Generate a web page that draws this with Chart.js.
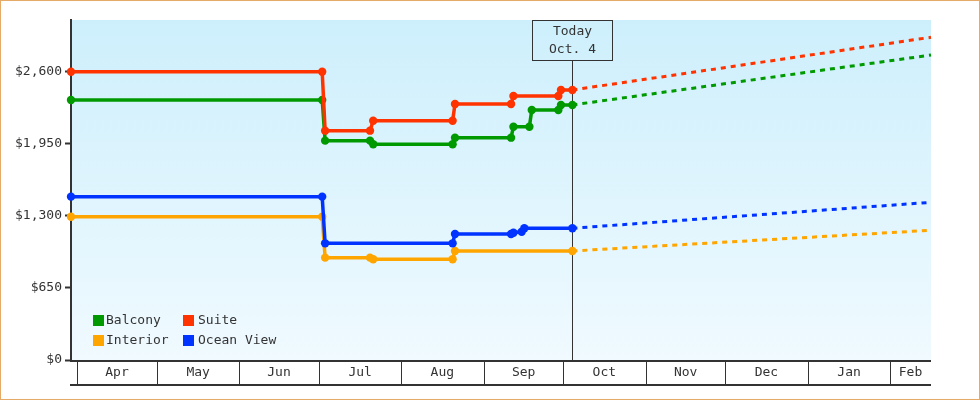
<!DOCTYPE html>
<html>
<head>
<meta charset="utf-8">
<script src="https://cdn.jsdelivr.net/npm/chart.js@4.4.1/dist/chart.umd.min.js"></script>
<style>
  html, body { margin: 0; padding: 0; background: #fff; }
  canvas { display: block; }
</style>
</head>
<body>
<canvas id="chart" width="980" height="400"></canvas>
<script>
// ─── Eixo de tempo: dias contados a partir de 1 de abril ───
const MONTHS       = ['Apr', 'May', 'Jun', 'Jul', 'Aug', 'Sep', 'Oct', 'Nov', 'Dec', 'Jan', 'Feb'];
const MONTH_STARTS = [0, 30, 61, 91, 122, 153, 183, 214, 244, 275, 306];
const X_MIN = -2.37;
const X_MAX = 321.4;
const TODAY_DAY   = 186.4;
const TODAY_TEXT  = ['Today', 'Oct. 4'];
const Y_TICKS = [0, 650, 1300, 1950, 2600];
const Y_MAX = 3066;

// ─── Preços observados ───
const balconyDays   = [-2.37, 92.2, 93.3, 110.2, 111.4, 141.3, 142.2, 163.3, 164.2, 170.2, 171.1, 181.1, 182.1, 186.4];
const balconyPrices = [2345, 2345, 1978, 1978, 1945, 1945, 2005, 2005, 2104, 2104, 2254, 2254, 2300, 2300];

const suiteDays   = [-2.37, 92.2, 93.3, 110.2, 111.4, 141.3, 142.2, 163.3, 164.2, 181.1, 182.1, 186.4];
const suitePrices = [2600, 2600, 2068, 2068, 2158, 2158, 2309, 2309, 2381, 2381, 2435, 2435];

const interiorDays   = [-2.37, 92.2, 93.3, 110.2, 111.4, 141.3, 142.2, 186.4];
const interiorPrices = [1292, 1292, 923, 923, 908, 908, 983, 983];

const oceanDays   = [-2.37, 92.2, 93.3, 141.3, 142.2, 163.3, 164.2, 167.3, 168.3, 186.4];
const oceanPrices = [1473, 1473, 1052, 1052, 1136, 1136, 1148, 1157, 1188, 1188];

// ─── Projeção (tracejada) ───
const forecastDays     = [186.4, 321.4];
const balconyForecast  = [2300, 2750];
const suiteForecast    = [2435, 2910];
const interiorForecast = [983, 1170];
const oceanForecast    = [1188, 1422];

// ─── Cores ───
const CORES = {
  balcony:  '#009900',
  suite:    '#ff3300',
  interior: '#ffa500',
  ocean:    '#0033ff',
};
const TXT = '#333333';
const FONTE = '13px "DejaVu Sans Mono", monospace';

const pts = (xs, ys) => xs.map((x, i) => ({ x, y: ys[i] }));

function serie(label, xs, ys, cor, ordem) {
  return {
    label, data: pts(xs, ys),
    borderColor: cor, backgroundColor: cor,
    borderWidth: 3.5, pointRadius: 4.2, pointHoverRadius: 4.2,
    pointBackgroundColor: cor, pointBorderWidth: 0,
    tension: 0, clip: false, order: ordem,
  };
}
function projecao(xs, ys, cor) {
  return {
    label: '', isForecast: true, data: pts(xs, ys),
    borderColor: cor, borderWidth: 3, borderDash: [5, 5],
    pointRadius: 0, tension: 0, clip: false, order: 10,
  };
}

// ─── Plugin: fundo, eixo x em caixas, marcador "Today", legenda ───
const decor = {
  id: 'decor',
  beforeDraw(chart) {
    const { ctx, chartArea: a } = chart;
    ctx.save();
    ctx.fillStyle = '#fff';
    ctx.fillRect(0, 0, chart.width, chart.height);
    const g = ctx.createLinearGradient(0, a.top, 0, a.bottom);
    g.addColorStop(0, '#cdeffc');
    g.addColorStop(1, '#f0faff');
    ctx.fillStyle = g;
    ctx.fillRect(a.left, a.top, a.right - a.left, a.bottom - a.top);
    ctx.restore();
  },
  beforeDatasetsDraw(chart) {
    const { ctx, chartArea: a, scales: { x } } = chart;
    ctx.save();
    ctx.font = FONTE;
    ctx.fillStyle = TXT;
    ctx.strokeStyle = TXT;
    // linha "Today" + caixa
    const tx = Math.round(x.getPixelForValue(TODAY_DAY)) + 0.5;
    ctx.lineWidth = 1;
    ctx.beginPath();
    ctx.moveTo(tx, a.top + 40);
    ctx.lineTo(tx, a.bottom);
    ctx.stroke();
    ctx.strokeRect(tx - 40, a.top + 0.5, 80, 40);
    ctx.textAlign = 'center';
    ctx.textBaseline = 'middle';
    ctx.fillText(TODAY_TEXT[0], tx, a.top + 12);
    ctx.fillText(TODAY_TEXT[1], tx, a.top + 30);
    ctx.restore();
  },
  afterDatasetsDraw(chart) {
    const { ctx, chartArea: a, scales: { x } } = chart;
    ctx.save();
    ctx.font = FONTE;
    ctx.fillStyle = TXT;
    ctx.textAlign = 'center';
    ctx.textBaseline = 'middle';

    // eixo x: linha, caixas dos meses e rótulos
    ctx.fillRect(a.left - 1, a.bottom, a.right - a.left + 1, 2);
    ctx.fillRect(a.left - 1, a.bottom + 24, a.right - a.left + 1, 2);
    MONTH_STARTS.forEach((d, i) => {
      const px = Math.round(x.getPixelForValue(d));
      ctx.fillRect(px, a.bottom + 2, 1, 22);
      const fim = i + 1 < MONTH_STARTS.length ? x.getPixelForValue(MONTH_STARTS[i + 1]) : a.right;
      ctx.fillText(MONTHS[i], (px + fim) / 2, a.bottom + 13);
    });

    // legenda manual (2 colunas)
    ctx.textAlign = 'left';
    chart.data.datasets.filter(ds => !ds.isForecast).forEach((ds, i) => {
      const bx = a.left + 22 + (i % 2) * 90;
      const by = a.bottom - 45 + Math.floor(i / 2) * 20;
      ctx.fillStyle = ds.borderColor;
      ctx.fillRect(bx, by, 11, 11);
      ctx.fillStyle = TXT;
      ctx.fillText(ds.label, bx + (i % 2 ? 15 : 13), by + 6);
    });

    // moldura
    ctx.strokeStyle = '#e5a968';
    ctx.strokeRect(0.5, 0.5, chart.width - 1, chart.height - 1);
    ctx.restore();
  },
};

Chart.defaults.font.family = '"DejaVu Sans Mono", monospace';
Chart.defaults.font.size = 13;
Chart.defaults.color = TXT;

new Chart(document.getElementById('chart'), {
  type: 'line',
  data: {
    datasets: [
      serie('Balcony', balconyDays, balconyPrices, CORES.balcony, 1),
      serie('Suite', suiteDays, suitePrices, CORES.suite, 0),
      serie('Interior', interiorDays, interiorPrices, CORES.interior, 3),
      serie('Ocean View', oceanDays, oceanPrices, CORES.ocean, 2),
      projecao(forecastDays, balconyForecast, CORES.balcony),
      projecao(forecastDays, suiteForecast, CORES.suite),
      projecao(forecastDays, interiorForecast, CORES.interior),
      projecao(forecastDays, oceanForecast, CORES.ocean),
    ],
  },
  options: {
    responsive: false,
    animation: false,
    layout: { padding: { top: 20, right: 49, bottom: 40, left: 0 } },
    plugins: { legend: { display: false }, tooltip: { enabled: false } },
    scales: {
      x: { type: 'linear', display: false, min: X_MIN, max: X_MAX },
      y: {
        min: 0, max: Y_MAX,
        border: { display: true, color: TXT, width: 2 },
        grid: { drawOnChartArea: false, drawTicks: true, tickLength: 6, tickColor: TXT, tickWidth: 2 },
        ticks: {
          padding: 3, color: TXT,
          callback: v => '$' + Number(v).toLocaleString('en-US'),
        },
        afterBuildTicks(s) { s.ticks = Y_TICKS.map(value => ({ value })); },
        afterFit(s) { s.width = 71; },
      },
    },
  },
  plugins: [decor],
});
</script>
</body>
</html>
